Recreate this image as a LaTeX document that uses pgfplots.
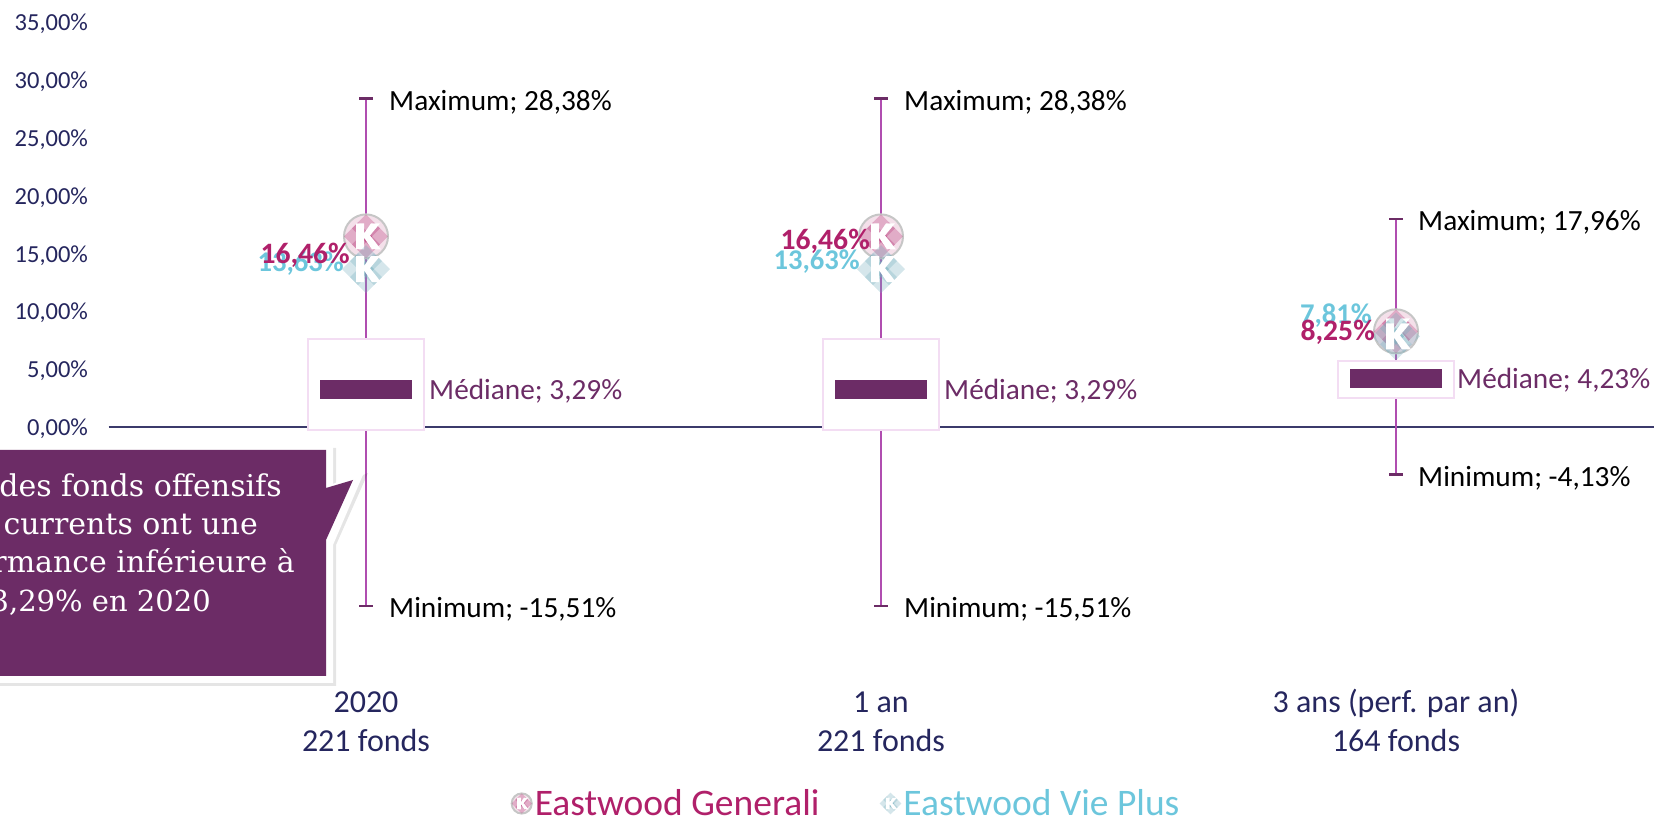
\documentclass[border=0pt]{standalone}
\usepackage{pgfplots}
\pgfplotsset{compat=1.18}
\usepackage{fontspec}
\setmainfont{Carlito}
\newfontfamily\serifcall{DejaVu Serif}
\definecolor{navy}{HTML}{25265E}
\definecolor{zeroc}{HTML}{3B3A6B}
\definecolor{whisk}{HTML}{B04DB0}
\definecolor{capc}{HTML}{6C2C66}
\definecolor{boxe}{HTML}{F3DDF3}
\definecolor{gen}{HTML}{B0206A}
\definecolor{vie}{HTML}{6CC6DC}
\makeatletter
\newcommand\kdia[3]{%
 \pgfpathmoveto{\pgfqpoint{\dimexpr#1pt+#3pt\relax}{#2pt}}%
 \pgfpathlineto{\pgfqpoint{#1pt}{\dimexpr#2pt+#3pt\relax}}%
 \pgfpathlineto{\pgfqpoint{\dimexpr#1pt-#3pt\relax}{#2pt}}%
 \pgfpathlineto{\pgfqpoint{#1pt}{\dimexpr#2pt-#3pt\relax}}%
 \pgfpathclose\pgfusepath{fill}}
\newcommand\kscale{\pgfmathparse{\pgfplotmarksize/23pt}\pgftransformscale{\pgfmathresult}}
\newcommand\kp[2]{\pgfpathlineto{\pgfqpoint{#1pt}{#2pt}}}
\newcommand\kletter{\pgfsetfillopacity{1}\pgfsetfillcolor{white}%
 \pgfpathmoveto{\pgfqpoint{-10pt}{13pt}}\kp{-2}{13}\kp{-2}{3}\kp{5}{13}\kp{14}{13}\kp{4}{1}\kp{15}{-13}\kp{6}{-13}\kp{-2}{-1}\kp{-2}{-13}\kp{-10}{-13}%
 \pgfpathclose\pgfusepath{fill}}
\pgfdeclareplotmark{kgen}{%
 \kscale
 \pgfsetlinewidth{2pt}\pgfsetstrokecolor{gray!45}\pgfsetfillcolor{gen!14}%
 \pgfpathcircle{\pgfpointorigin}{22pt}\pgfusepath{fill,stroke}%
 \pgfsetfillcolor{gen}\pgfsetfillopacity{0.27}%
 \kdia{0}{8}{14}\kdia{-8}{0}{14}\kdia{8}{0}{14}\kdia{0}{-8}{14}%
 \kletter}
\pgfdeclareplotmark{kvie}{%
 \kscale
 \pgfsetfillcolor{vie!65!gray}\pgfsetfillopacity{0.3}%
 \kdia{0}{8}{16}\kdia{-8}{0}{16}\kdia{8}{0}{16}\kdia{0}{-8}{16}%
 \kletter}
\makeatother
\begin{document}
\begin{tikzpicture}[x=1pt,y=1pt]
\useasboundingbox (0,0) rectangle (1654,818);
\begin{axis}[
  at={(108.5pt,160.1pt)},anchor=south west,
  scale only axis,width=1545pt,height=635.8pt,
  xmin=-0.5,xmax=2.5,ymin=-20,ymax=35,
  clip=false,
  axis line style={draw=none},
  tick style={draw=none},
  xtick={0,1,2},
  xticklabels={\vphantom{(}2020\\221 fonds,\vphantom{(}1 an\\221 fonds,3 ans (perf. par an)\\164 fonds},
  xticklabel style={align=center,text=navy,font=\fontsize{32}{39}\selectfont,yshift=-28pt},
  ytick={0,5,10,15,20,25,30,35},
  yticklabels={0{,}00\%,5{,}00\%,10{,}00\%,15{,}00\%,20{,}00\%,25{,}00\%,30{,}00\%,35{,}00\%},
  yticklabel style={text=navy,font=\fontsize{24.5}{26}\selectfont,xshift=-17pt,yshift=-2pt},
  legend style={draw=none,fill=none,at={(0.4774,-0.229)},anchor=center,legend columns=2,
    font=\fontsize{37.5}{40}\selectfont,
    /tikz/every even column/.append style={column sep=58pt}},
  legend cell align=left,
]
% zero line
\addplot[zeroc,line width=2pt,forget plot] coordinates {(-0.5,0)(2.5,0)};
% whiskers
\addplot[whisk,line width=1.8pt,forget plot] coordinates {(0,-15.51)(0,28.38)};
\addplot[whisk,line width=1.8pt,forget plot] coordinates {(1,-15.51)(1,28.38)};
\addplot[whisk,line width=1.8pt,forget plot] coordinates {(2,-4.13)(2,17.96)};
% caps
\addplot[capc,line width=2.5pt,forget plot] coordinates {(-0.013,28.38)(0.013,28.38)};
\addplot[capc,line width=2.5pt,forget plot] coordinates {(-0.013,-15.51)(0.013,-15.51)};
\addplot[capc,line width=2.5pt,forget plot] coordinates {(0.987,28.38)(1.013,28.38)};
\addplot[capc,line width=2.5pt,forget plot] coordinates {(0.987,-15.51)(1.013,-15.51)};
\addplot[capc,line width=2.5pt,forget plot] coordinates {(1.987,17.96)(2.013,17.96)};
\addplot[capc,line width=2.5pt,forget plot] coordinates {(1.987,-4.13)(2.013,-4.13)};
% boxes
\addplot[fill=white,draw=boxe,line width=2pt,forget plot] coordinates {(-0.113,-0.32)(0.113,-0.32)(0.113,7.62)(-0.113,7.62)} -- cycle;
\addplot[fill=white,draw=boxe,line width=2pt,forget plot] coordinates {(0.887,-0.32)(1.113,-0.32)(1.113,7.62)(0.887,7.62)} -- cycle;
\addplot[fill=white,draw=boxe,line width=2pt,forget plot] coordinates {(1.887,2.5)(2.113,2.5)(2.113,5.7)(1.887,5.7)} -- cycle;
% medians
\addplot[fill=capc,draw=none,forget plot] coordinates {(-0.09,2.42)(0.09,2.42)(0.09,4.06)(-0.09,4.06)} -- cycle;
\addplot[fill=capc,draw=none,forget plot] coordinates {(0.91,2.42)(1.09,2.42)(1.09,4.06)(0.91,4.06)} -- cycle;
\addplot[fill=capc,draw=none,forget plot] coordinates {(1.91,3.33)(2.09,3.33)(2.09,4.97)(1.91,4.97)} -- cycle;
% funds
\addplot[only marks,mark=kgen,mark size=23pt,
  legend image code/.code={\draw[mark repeat=1,mark=kgen,mark size=10.5pt] plot coordinates {(-14pt,0pt)};}]
  coordinates {(0,16.46)(1,16.46)(2,8.25)};
\addlegendentry{\textcolor{gen}{Eastwood Generali}}
\addplot[only marks,mark=kvie,mark size=23pt,
  legend image code/.code={\draw[mark repeat=1,mark=kvie,mark size=10.5pt] plot coordinates {(-14pt,0pt)};}]
  coordinates {(0,13.63)(1,13.63)(2,7.81)};
\addlegendentry{\textcolor{vie}{Eastwood Vie Plus}}
% data labels
\tikzset{lab/.style={anchor=west,inner sep=0pt,yshift=-3.5pt,font=\fontsize{29.3}{32}\selectfont}}
\foreach \c in {0,1}{
  \edef\temp{\noexpand\node[lab,black,xshift=23pt] at (axis cs:\c,28.38) {Maximum; 28,38\%};
  \noexpand\node[lab,black,xshift=23pt] at (axis cs:\c,-15.51) {Minimum; -15,51\%};
  \noexpand\node[lab,capc,xshift=63pt] at (axis cs:\c,3.39) {Médiane; 3,29\%};}
  \temp
}
\node[lab,black,xshift=22pt] at (axis cs:2,17.96) {Maximum; 17,96\%};
\node[lab,black,xshift=22pt] at (axis cs:2,-4.13) {Minimum; -4,13\%};
\node[lab,capc,xshift=61pt] at (axis cs:2,4.33) {Médiane; 4,23\%};
\coordinate (v1) at (axis cs:0,14.1);
\coordinate (g1) at (axis cs:0,14.85);
\coordinate (v2) at (axis cs:1,14.3);
\coordinate (g2) at (axis cs:1,16.05);
\coordinate (v3) at (axis cs:2,9.65);
\coordinate (g3) at (axis cs:2,8.16);
\end{axis}
% value labels, above the marks
\tikzset{valv/.style={anchor=east,inner sep=0pt,text=vie,font=\fontsize{28.6}{32}\selectfont\bfseries},
         valg/.style={anchor=east,inner sep=0pt,text=gen,font=\fontsize{29.6}{32}\selectfont\bfseries}}
\node[valv,xshift=-22pt] at (v1) {13,63\%};
\node[valg,xshift=-16pt] at (g1) {16,46\%};
\node[valv,xshift=-21pt] at (v2) {13,63\%};
\node[valg,xshift=-11pt] at (g2) {16,46\%};
\node[valv,xshift=-24pt] at (v3) {7,81\%};
\node[valg,xshift=-21pt] at (g3) {8,25\%};
% callout
\fill[black,opacity=0.10] (0,818-448) -- (336,818-448) -- (336,818-486) -- (368,818-473) -- (336,818-545) -- (336,818-686) -- (0,818-686) -- cycle;
\fill[white] (0,818-443) -- (333,818-443) -- (333,818-484) -- (365,818-470) -- (333,818-545) -- (333,818-683) -- (0,818-683) -- cycle;
\fill[capc] (0,818-450) -- (326,818-450) -- (326,818-488) -- (353,818-480) -- (326,818-540) -- (326,818-676) -- (0,818-676) -- cycle;
\tikzset{call/.style={anchor=base east,inner sep=0pt,text=white,font=\serifcall\fontsize{30}{31}\selectfont}}
\node[call] at (282,818-497) {des fonds offensifs};
\node[call] at (258,818-535) {currents ont une};
\node[call] at (295,818-573) {rmance inférieure à};
\node[call,font=\serifcall\fontsize{29}{31}\selectfont] at (211,818-612) {3,29\% en 2020};
\end{tikzpicture}
\end{document}
